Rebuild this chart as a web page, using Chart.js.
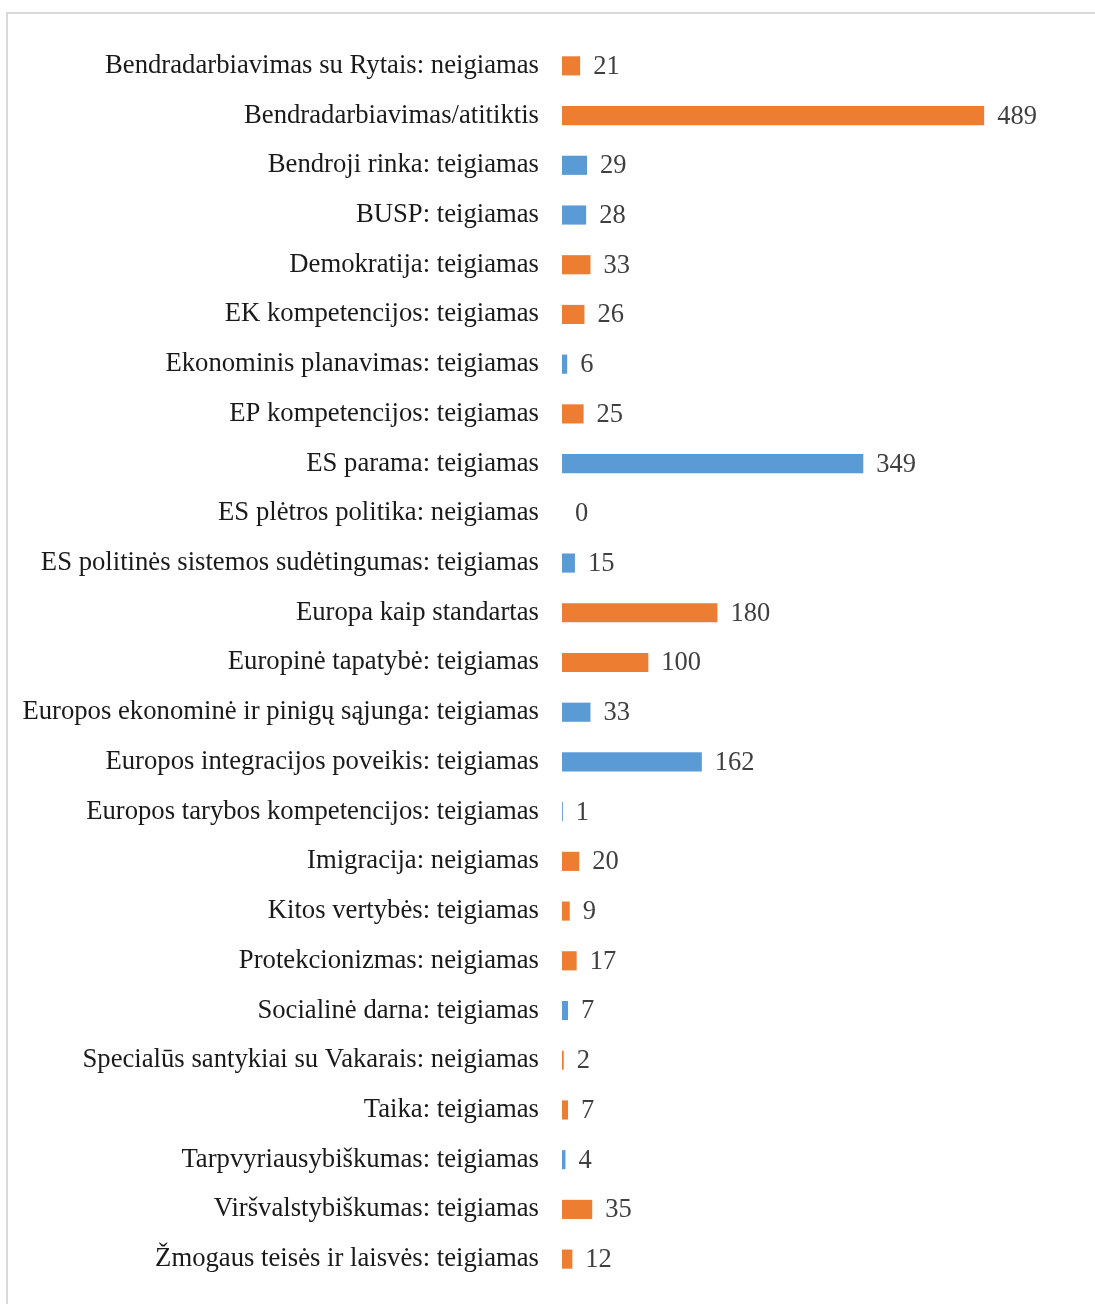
<!DOCTYPE html>
<html>
<head>
<meta charset="utf-8">
<script src="https://cdn.jsdelivr.net/npm/chart.js@4"></script>
<style>
  html,body{margin:0;padding:0;background:#fff;overflow:hidden;}
  .frame{position:absolute;left:6px;top:12px;width:1200px;height:1400px;border-left:2px solid #d9d9d9;border-top:2px solid #d9d9d9;}
  .wrap{position:absolute;left:0;top:0;width:1095px;height:1315px;}
</style>
</head>
<body>
<div class="frame"></div>
<div class="wrap"><canvas id="chart" width="1095" height="1315"></canvas></div>
<script>
// categories and counts, split by colour group
const categories=[
  'Bendradarbiavimas su Rytais: neigiamas',
  'Bendradarbiavimas/atitiktis',
  'Bendroji rinka: teigiamas',
  'BUSP: teigiamas',
  'Demokratija: teigiamas',
  'EK kompetencijos: teigiamas',
  'Ekonominis planavimas: teigiamas',
  'EP kompetencijos: teigiamas',
  'ES parama: teigiamas',
  'ES plėtros politika: neigiamas',
  'ES politinės sistemos sudėtingumas: teigiamas',
  'Europa kaip standartas',
  'Europinė tapatybė: teigiamas',
  'Europos ekonominė ir pinigų sąjunga: teigiamas',
  'Europos integracijos poveikis: teigiamas',
  'Europos tarybos kompetencijos: teigiamas',
  'Imigracija: neigiamas',
  'Kitos vertybės: teigiamas',
  'Protekcionizmas: neigiamas',
  'Socialinė darna: teigiamas',
  'Specialūs santykiai su Vakarais: neigiamas',
  'Taika: teigiamas',
  'Tarpvyriausybiškumas: teigiamas',
  'Viršvalstybiškumas: teigiamas',
  'Žmogaus teisės ir laisvės: teigiamas'
];
const orangeValues=[21,489,null,null,33,26,null,25,null,null,null,180,100,null,null,null,20,9,17,null,2,7,null,35,12];
const blueValues=[null,null,29,28,null,null,6,null,349,0,15,null,null,33,162,1,null,null,null,7,null,null,4,null,null];

const FONT="'Liberation Serif', serif";
const FONT_SIZE=26.7;
const AXIS_X=562;

// value labels just right of each bar end
const valueLabels={
  id:'valueLabels',
  afterDatasetsDraw(chart){
    const ctx=chart.ctx;
    ctx.save();
    ctx.font='26.5px '+FONT;
    ctx.fillStyle='#404040';
    ctx.textBaseline='middle';
    ctx.textAlign='left';
    chart.data.datasets.forEach((ds,i)=>{
      chart.getDatasetMeta(i).data.forEach((bar,j)=>{
        const v=ds.data[j];
        if(v===null||v===undefined) return;
        ctx.fillText(String(v),bar.x+13,bar.y+1);
      });
    });
    ctx.restore();
  }
};

new Chart(document.getElementById('chart'),{
  type:'bar',
  data:{
    labels:categories,
    datasets:[
      {data:orangeValues,backgroundColor:'#ED7D31',barPercentage:0.385,categoryPercentage:1},
      {data:blueValues,backgroundColor:'#5B9BD5',barPercentage:0.385,categoryPercentage:1}
    ]
  },
  options:{
    indexAxis:'y',
    responsive:false,
    animation:false,
    layout:{padding:{top:41,bottom:4,left:0,right:15}},
    plugins:{legend:{display:false},tooltip:{enabled:false}},
    scales:{
      x:{display:false,stacked:true,min:0,max:600},
      y:{
        stacked:true,
        grid:{display:false},
        border:{display:false},
        ticks:{color:'#1a1a1a',padding:15,font:{family:FONT,size:FONT_SIZE}},
        afterFit(scale){scale.width=AXIS_X;}
      }
    }
  },
  plugins:[valueLabels]
});
</script>
</body>
</html>
